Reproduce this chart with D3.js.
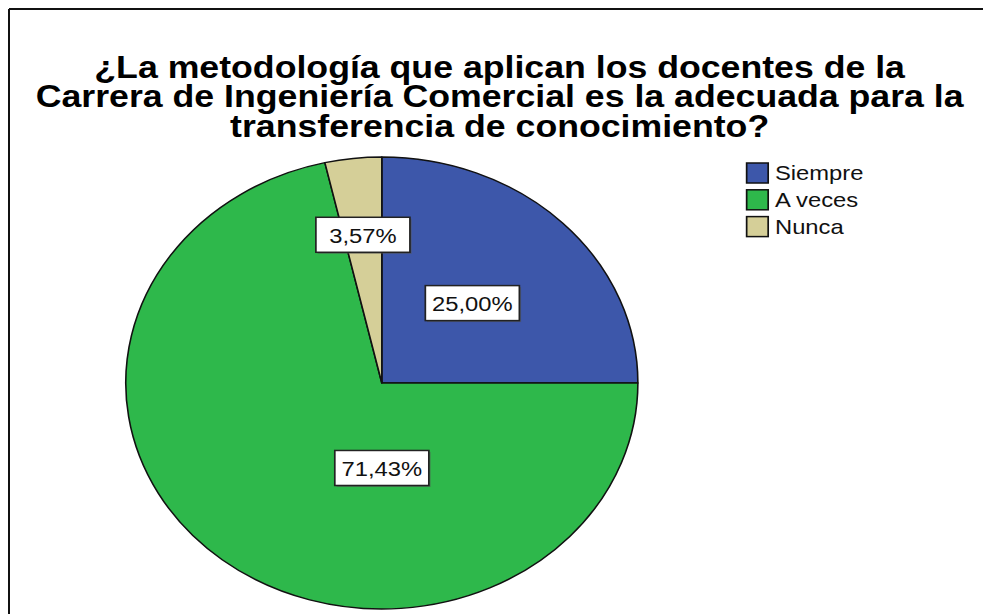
<!DOCTYPE html>
<html>
<head>
<meta charset="utf-8">
<script src="https://cdn.jsdelivr.net/npm/d3@7"></script>
<style>
  body { margin: 0; background: #fff; }
  text { font-family: "Liberation Sans", Arial, sans-serif; }
</style>
</head>
<body>
<script>
// chart data
var titleLines = [
  "¿La metodología que aplican los docentes de la",
  "Carrera de Ingeniería Comercial es la adecuada para la",
  "transferencia de conocimiento?"
];
var categories = ["Siempre", "A veces", "Nunca"];
var percents = [25.00, 71.43, 3.57];
var labels = ["25,00%", "71,43%", "3,57%"];
var colors = ["#3d57aa", "#2eb84b", "#d5cf98"];

var W = 983, H = 614;
// the picture is stretched horizontally, so draw in a squeezed frame
var sx = 1.133;
var cx = 337, cy = 383, radius = 226;

var svg = d3.select("body").append("svg")
  .attr("width", W)
  .attr("height", H);

// outer frame (only top and left edges visible)
svg.append("line").attr("x1", 9).attr("y1", 9).attr("x2", W).attr("y2", 9)
  .attr("stroke", "#111").attr("stroke-width", 2);
svg.append("line").attr("x1", 9).attr("y1", 9).attr("x2", 9).attr("y2", H)
  .attr("stroke", "#111").attr("stroke-width", 2);

var g = svg.append("g").attr("transform", "scale(" + sx + ",1)");

// title
g.append("g").selectAll("text")
  .data(titleLines)
  .enter()
  .append("text")
  .attr("x", 441)
  .attr("y", function (d, i) { return 78 + i * 29.5; })
  .attr("text-anchor", "middle")
  .style("font-weight", "bold")
  .style("font-size", "31.5px")
  .attr("fill", "#000")
  .text(function (d) { return d; });

// pie
var data = categories.map(function (c, i) {
  return {cat: c, value: percents[i], label: labels[i], color: colors[i]};
});
var pie = d3.pie().sort(null).value(function (d) { return d.value; });
var arc = d3.arc().innerRadius(0).outerRadius(radius);
var arcs = pie(data);

var pieG = g.append("g").attr("transform", "translate(" + cx + "," + cy + ")");
pieG.selectAll("path")
  .data(arcs)
  .enter()
  .append("path")
  .attr("d", arc)
  .attr("fill", function (d) { return d.data.color; })
  .attr("stroke", "#111")
  .attr("stroke-width", 1.4)
  .attr("stroke-linejoin", "round");

// label placement: fraction of radius, optional angle override
var labelLayout = {"Siempre": {r: 0.5}, "A veces": {r: 0.376, a: Math.PI}, "Nunca": {r: 0.66}};
var boxW = 83, boxH = 35;
var lab = pieG.selectAll("g.lab")
  .data(arcs)
  .enter()
  .append("g")
  .attr("class", "lab")
  .attr("transform", function (d) {
    var lay = labelLayout[d.data.cat];
    var a = lay.a !== undefined ? lay.a : (d.startAngle + d.endAngle) / 2;
    var rr = lay.r * radius;
    return "translate(" + (rr * Math.sin(a)) + "," + (-rr * Math.cos(a)) + ")";
  });
lab.append("rect")
  .attr("x", -boxW / 2 + 1.5).attr("y", -boxH / 2 + 1.5)
  .attr("width", boxW).attr("height", boxH)
  .attr("fill", "#555").attr("opacity", 0.6);
lab.append("rect")
  .attr("x", -boxW / 2).attr("y", -boxH / 2)
  .attr("width", boxW).attr("height", boxH)
  .attr("fill", "#fff")
  .attr("stroke", "#222")
  .attr("stroke-width", 1.5);
lab.append("text")
  .attr("text-anchor", "middle")
  .attr("y", 8)
  .style("font-size", "21px")
  .attr("fill", "#111")
  .text(function (d) { return d.data.label; });

// legend
var legend = g.append("g").attr("transform", "translate(659,163)");
var item = legend.selectAll("g")
  .data(data)
  .enter()
  .append("g")
  .attr("transform", function (d, i) { return "translate(0," + (i * 26.8) + ")"; });
item.append("rect")
  .attr("width", 19).attr("height", 20)
  .attr("fill", function (d) { return d.color; })
  .attr("stroke", "#111")
  .attr("stroke-width", 1.5);
item.append("text")
  .attr("x", 25)
  .attr("y", 17)
  .style("font-size", "21px")
  .attr("fill", "#111")
  .text(function (d) { return d.cat; });
</script>
</body>
</html>
